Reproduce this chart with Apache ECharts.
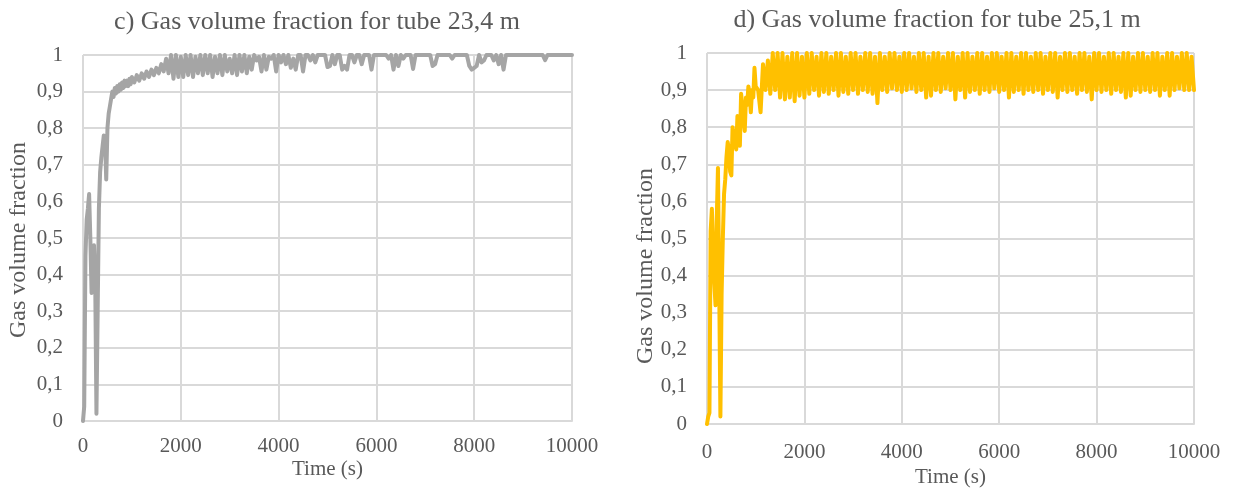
<!DOCTYPE html>
<html>
<head>
<meta charset="utf-8">
<script src="https://cdn.jsdelivr.net/npm/echarts@6/dist/echarts.min.js"></script>
<style>
	html, body { margin: 0; padding: 0; background: #fff; }
	#chart { width: 1237px; height: 489px; }
</style>
</head>
<body>
<div id="chart"></div>
<script>
// time samples (s), shared by both tubes
var timeS = [
	0, 25, 50, 75, 100, 125, 150, 175, 200, 225,
	250, 275, 300, 325, 350, 375, 400, 425, 450, 475,
	500, 525, 550, 575, 600, 625, 650, 675, 700, 725,
	750, 775, 800, 825, 850, 875, 900, 925, 950, 975,
	1000,
	1050, 1100, 1150, 1200, 1250, 1300, 1350, 1400, 1450, 1500,
	1550, 1600, 1650, 1700, 1750, 1800, 1850, 1900, 1950, 2000,
	2050, 2100, 2150, 2200, 2250, 2300, 2350, 2400, 2450, 2500,
	2550, 2600, 2650, 2700, 2750, 2800, 2850, 2900, 2950, 3000,
	3050, 3100, 3150, 3200, 3250, 3300, 3350, 3400, 3450, 3500,
	3550, 3600, 3650, 3700, 3750, 3800, 3850, 3900, 3950, 4000,
	4050, 4100, 4150, 4200, 4250, 4300, 4350, 4400, 4450, 4500,
	4550, 4600, 4650, 4700, 4750, 4800, 4850, 4900, 4950, 5000,
	5050, 5100, 5150, 5200, 5250, 5300, 5350, 5400, 5450, 5500,
	5550, 5600, 5650, 5700, 5750, 5800, 5850, 5900, 5950, 6000,
	6050, 6100, 6150, 6200, 6250, 6300, 6350, 6400, 6450, 6500,
	6550, 6600, 6650, 6700, 6750, 6800, 6850, 6900, 6950, 7000,
	7050, 7100, 7150, 7200, 7250, 7300, 7350, 7400, 7450, 7500,
	7550, 7600, 7650, 7700, 7750, 7800, 7850, 7900, 7950, 8000,
	8050, 8100, 8150, 8200, 8250, 8300, 8350, 8400, 8450, 8500,
	8550, 8600, 8650, 8700, 8750, 8800, 8850, 8900, 8950, 9000,
	9050, 9100, 9150, 9200, 9250, 9300, 9350, 9400, 9450, 9500,
	9550, 9600, 9650, 9700, 9750, 9800, 9850, 9900, 9950, 10000
];

// c) tube 23,4 m
var tube234 = [
	0, 0.04, 0.45, 0.55, 0.58, 0.62, 0.5, 0.35, 0.42, 0.48,
	0.38, 0.02, 0.3, 0.58, 0.68, 0.72, 0.75, 0.78, 0.77, 0.66,
	0.8, 0.84, 0.86, 0.88, 0.9, 0.885, 0.91, 0.895, 0.915, 0.9,
	0.92, 0.905, 0.925, 0.91, 0.93, 0.915, 0.93, 0.915, 0.935, 0.92,
	0.94,
	0.925, 0.945, 0.93, 0.95, 0.935, 0.955, 0.94, 0.96, 0.945, 0.965,
	0.95, 0.975, 0.955, 0.99, 0.95, 1, 0.935, 1, 0.94, 0.995,
	0.94, 1, 0.945, 1, 0.94, 0.995, 0.95, 1, 0.945, 1,
	0.95, 1, 0.94, 0.995, 0.95, 1, 0.945, 1, 0.955, 0.99,
	0.95, 1, 0.945, 1, 0.955, 1, 0.95, 0.995, 0.96, 1,
	0.985, 0.995, 0.955, 1, 0.96, 0.995, 0.99, 1, 0.955, 1,
	0.98, 1, 0.975, 1, 0.965, 0.99, 0.96, 1, 1, 0.955,
	1, 1, 0.985, 1, 0.98, 1, 1, 1, 1, 0.967,
	0.97, 1, 0.975, 1, 1, 0.96, 0.97, 0.96, 1, 1,
	0.98, 1, 1, 0.975, 1, 1, 1, 0.96, 1, 1,
	1, 1, 1, 1, 0.99, 1, 0.96, 1, 0.97, 1,
	0.99, 1, 1, 1, 0.962, 1, 1, 1, 1, 1,
	1, 1, 0.97, 0.975, 1, 1, 1, 1, 1, 1,
	0.99, 1, 1, 1, 1, 1, 1, 0.97, 0.96, 0.965,
	0.97, 1, 0.98, 0.985, 1, 1, 1, 0.985, 1, 0.975,
	1, 0.96, 1, 1, 1, 1, 1, 1, 1, 1,
	1, 1, 1, 1, 1, 1, 1, 1, 0.986, 1,
	1, 1, 1, 1, 1, 1, 1, 1, 1, 1
];

// d) tube 25,1 m
var tube251 = [
	0, 0.02, 0.03, 0.52, 0.58, 0.47, 0.38, 0.32, 0.55, 0.69,
	0.38, 0.02, 0.35, 0.5, 0.62, 0.66, 0.72, 0.76, 0.74, 0.68,
	0.67, 0.8, 0.78, 0.76, 0.74, 0.83, 0.8, 0.75, 0.89, 0.86,
	0.82, 0.79, 0.88, 0.86, 0.91, 0.89, 0.84, 0.9, 0.88, 0.96,
	0.91,
	0.9, 0.84, 0.97, 0.9, 0.98, 0.89, 1, 0.9, 1, 0.88,
	1, 0.875, 0.99, 0.88, 1, 0.87, 1, 0.885, 0.99, 0.88,
	1, 0.89, 1, 0.9, 0.99, 0.885, 1, 0.895, 1, 0.89,
	0.99, 0.9, 1, 0.885, 1, 0.895, 0.99, 0.89, 1, 0.9,
	1, 0.89, 0.99, 0.9, 1, 0.895, 1, 0.89, 0.99, 0.865,
	1, 0.9, 0.99, 0.895, 1, 0.905, 1, 0.9, 0.99, 0.895,
	1, 0.9, 1, 0.905, 0.99, 0.895, 1, 0.9, 1, 0.88,
	0.99, 0.885, 1, 0.9, 1, 0.895, 0.99, 0.905, 1, 0.9,
	1, 0.875, 0.99, 0.9, 1, 0.88, 1, 0.895, 0.99, 0.9,
	1, 0.89, 1, 0.9, 0.99, 0.895, 1, 0.905, 1, 0.895,
	0.99, 0.9, 1, 0.88, 1, 0.895, 0.99, 0.9, 1, 0.89,
	1, 0.9, 0.99, 0.895, 1, 0.9, 1, 0.89, 0.99, 0.9,
	1, 0.895, 1, 0.88, 0.99, 0.9, 1, 0.895, 1, 0.9,
	0.99, 0.89, 1, 0.9, 1, 0.895, 0.99, 0.875, 1, 0.9,
	1, 0.895, 0.99, 0.9, 1, 0.89, 1, 0.9, 0.99, 0.895,
	1, 0.88, 1, 0.885, 0.99, 0.9, 1, 0.895, 1, 0.9,
	0.99, 0.895, 1, 0.9, 1, 0.885, 0.99, 0.9, 1, 0.885,
	1, 0.9, 0.99, 0.905, 1, 0.9, 1, 0.9, 0.99, 0.9
];

var xTicks = { min: 0, max: 10000, interval: 2000 };
var yTicks = { min: 0, max: 1, interval: 0.1 };

var FONT = '"Liberation Serif", "Times New Roman", serif';
var TXT = '#595959';
var GRIDC = '#D9D9D9';

function pairs(ts, vs) {
	var out = [];
	for (var i = 0; i < ts.length; i++) out.push([ts[i], vs[i]]);
	return out;
}

function commaFmt(v) {
	return String(Math.round(v * 10) / 10).replace('.', ',');
}

function xAxisOf(idx, gap, margin) {
	return {
		type: 'value', gridIndex: idx,
		min: xTicks.min, max: xTicks.max, interval: xTicks.interval,
		name: 'Time (s)', nameLocation: 'middle', nameGap: gap,
		nameMoveOverlap: false,
		nameTextStyle: { fontFamily: FONT, fontSize: 21, color: TXT },
		axisLine: { lineStyle: { color: GRIDC, width: 2 } },
		axisTick: { show: false },
		axisLabel: {
			fontFamily: FONT, fontSize: 21, color: TXT, margin: margin,
			formatter: function(v) { return String(v); }
		},
		splitLine: { show: true, lineStyle: { color: GRIDC, width: 2 } }
	};
}

function yAxisOf(idx) {
	return {
		type: 'value', gridIndex: idx,
		min: yTicks.min, max: yTicks.max, interval: yTicks.interval,
		axisLine: { show: false },
		axisTick: { show: false },
		axisLabel: { fontFamily: FONT, fontSize: 21, color: TXT, margin: 20, formatter: commaFmt },
		splitLine: { show: true, lineStyle: { color: GRIDC, width: 2 } }
	};
}

function yName(x, y) {
	return {
		type: 'text', x: x, y: y, rotation: Math.PI / 2,
		style: {
			text: 'Gas volume fraction', font: '24px ' + FONT, fill: TXT,
			align: 'center', verticalAlign: 'middle',
			textAlign: 'center', textVerticalAlign: 'middle'
		}
	};
}

var chart = echarts.init(document.getElementById('chart'));

chart.setOption({
	animation: false,
	backgroundColor: '#fff',
	title: [{
		text: 'c) Gas volume fraction for tube 23,4 m',
		left: 312, top: 4, textAlign: 'center',
		textStyle: { fontFamily: FONT, fontSize: 26, fontWeight: 'normal', color: TXT }
	}, {
		text: 'd) Gas volume fraction for tube 25,1 m',
		left: 932, top: 2, textAlign: 'center',
		textStyle: { fontFamily: FONT, fontSize: 26, fontWeight: 'normal', color: TXT }
	}],
	graphic: [yName(19, 240), yName(646, 266)],
	grid: [
		{ left: 83, top: 55, width: 489, height: 366, outerBoundsMode: 'none', containLabel: false },
		{ left: 707, top: 53, width: 487, height: 371, outerBoundsMode: 'none', containLabel: false }
	],
	xAxis: [xAxisOf(0, 38, 15), xAxisOf(1, 43, 18)],
	yAxis: [yAxisOf(0), yAxisOf(1)],
	series: [{
		name: 'tube 23,4 m',
		type: 'line', xAxisIndex: 0, yAxisIndex: 0,
		data: pairs(timeS, tube234),
		showSymbol: false,
		lineStyle: { color: '#A5A5A5', width: 4, join: 'round', cap: 'round' },
		itemStyle: { color: '#A5A5A5' }
	}, {
		name: 'tube 25,1 m',
		type: 'line', xAxisIndex: 1, yAxisIndex: 1,
		data: pairs(timeS, tube251),
		showSymbol: false,
		lineStyle: { color: '#FFC000', width: 4, join: 'round', cap: 'round' },
		itemStyle: { color: '#FFC000' }
	}]
});
</script>
</body>
</html>
